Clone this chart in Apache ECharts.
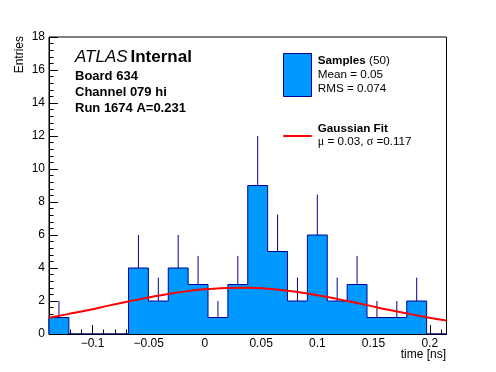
<!DOCTYPE html>
<html><head><meta charset="utf-8">
<script src="https://cdn.jsdelivr.net/npm/echarts@6/dist/echarts.min.js"></script>
<style>html,body{margin:0;padding:0;background:#fff}#c{width:496px;height:372px}</style>
</head><body><div id="c"></div>
<script>
// ---- data ----
const binLow = -0.1387;
const binWidth = 0.01768;
const counts = [1,0,0,0,4,2,4,3,1,3,9,5,2,6,2,3,1,1,2,0];
const fitX = [-0.1387,-0.121,-0.1033,-0.0857,-0.068,-0.0503,-0.0326,-0.0149,0.0027,0.0204,0.0381,0.0558,0.0735,0.0911,0.1088,0.1265,0.1442,0.1619,0.1795,0.1972,0.2149];
const fitY = [0.99,1.22,1.46,1.72,1.97,2.21,2.43,2.60,2.72,2.79,2.80,2.74,2.62,2.45,2.24,2.00,1.75,1.49,1.25,1.02,0.82];
const xMajorTicks = [-0.1,-0.05,0,0.05,0.1,0.15,0.2];
const xMinorTicks = [-0.13,-0.12,-0.11,-0.1,-0.09,-0.08,-0.07,-0.06,-0.05,-0.04,-0.03,-0.02,-0.01,0,0.01,0.02,0.03,0.04,0.05,0.06,0.07,0.08,0.09,0.1,0.11,0.12,0.13,0.14,0.15,0.16,0.17,0.18,0.19,0.2,0.21];
const yMinorTicks = [0.4,0.8,1.2,1.6,2.4,2.8,3.2,3.6,4.4,4.8,5.2,5.6,6.4,6.8,7.2,7.6,8.4,8.8,9.2,9.6,10.4,10.8,11.2,11.6,12.4,12.8,13.2,13.6,14.4,14.8,15.2,15.6,16.4,16.8,17.2,17.6];
const yMin = 0, yMax = 18, yStep = 2;
const xMin = binLow, xMax = binLow + counts.length * binWidth;
const titleLines = ['Board 634', 'Channel 079 hi', 'Run 1674 A=0.231'];
const legendSamples = {name: 'Samples', n: '(50)', mean: 'Mean = 0.05', rms: 'RMS = 0.074'};
const legendFit = {name: 'Gaussian Fit', mu: '0.03', sigma: '0.117'};

const FONT = "'Liberation Sans', Arial, Helvetica, sans-serif";
const FILL = '#0099ff', EDGE = '#000099';

const outline = [[binLow, 0]];
counts.forEach((n, i) => { outline.push([binLow + i * binWidth, n]); outline.push([binLow + (i + 1) * binWidth, n]); });
outline.push([xMax, 0]);
const errData = counts.map((n, i) => [binLow + (i + 0.5) * binWidth, n, n + Math.sqrt(n)]).filter(d => d[1] > 0);
const fitData = fitX.map((x, i) => [x, fitY[i]]);

const fmt = v => { const s = String(+v.toFixed(4)); return s.replace('-', '\u2212'); };

const chart = echarts.init(document.getElementById('c'), null, {renderer: 'canvas'});
chart.setOption({
  animation: false,
  backgroundColor: '#fff',
  grid: {left: 49, top: 37, width: 397.5, height: 297, show: true, borderColor: '#000', borderWidth: 1, backgroundColor: 'transparent'},
  xAxis: [{
    type: 'value', min: xMin, max: xMax, position: 'bottom',
    axisLine: {show: true, onZero: false, lineStyle: {color: '#000', width: 1}},
    axisTick: {show: true, inside: true, length: 9, customValues: xMajorTicks, lineStyle: {color: '#000'}},
    axisLabel: {show: true, customValues: xMajorTicks, formatter: fmt, color: '#000', fontFamily: FONT, fontSize: 12, margin: 4},
    splitLine: {show: false}
  }, {
    type: 'value', min: xMin, max: xMax, position: 'bottom',
    axisLine: {show: false, onZero: false},
    axisTick: {show: true, inside: true, length: 4.5, customValues: xMinorTicks, lineStyle: {color: '#000'}},
    axisLabel: {show: false},
    splitLine: {show: false}
  }],
  yAxis: [{
    type: 'value', min: yMin, max: yMax, interval: yStep, position: 'left',
    axisLine: {show: true, onZero: false, lineStyle: {color: '#000', width: 1}},
    axisTick: {show: true, inside: true, length: 9, lineStyle: {color: '#000'}},
    axisLabel: {color: '#000', fontFamily: FONT, fontSize: 12, margin: 4},
    splitLine: {show: false}
  }, {
    type: 'value', min: yMin, max: yMax, position: 'left', offset: 0,
    axisLine: {show: false, onZero: false},
    axisTick: {show: true, inside: true, length: 4.5, customValues: yMinorTicks, lineStyle: {color: '#000'}},
    axisLabel: {show: false},
    splitLine: {show: false}
  }],
  series: [{
    type: 'line', z: 3, data: outline, showSymbol: false, symbol: 'none',
    lineStyle: {color: EDGE, width: 1}, areaStyle: {color: FILL, opacity: 1, origin: 'start'}, silent: true
  }, {
    type: 'custom', z: 4, data: errData, encode: {x: 0, y: [1, 2]},
    renderItem: (params, api) => {
      const a = api.coord([api.value(0), api.value(1)]);
      const b = api.coord([api.value(0), api.value(2)]);
      return {type: 'line', shape: {x1: a[0], y1: a[1], x2: b[0], y2: b[1]}, style: {stroke: EDGE, lineWidth: 1}};
    }
  }, {
    type: 'line', z: 5, data: fitData, smooth: true, showSymbol: false, symbol: 'none',
    lineStyle: {color: '#ff0000', width: 2}, silent: true
  }],
  graphic: [
    {type: 'text', x: 75, y: 57, style: {text: 'ATLAS', font: `italic 17px ${FONT}`, fill: '#000', verticalAlign: 'middle'}},
    {type: 'text', x: 130.5, y: 57, style: {text: 'Internal', font: `bold 17px ${FONT}`, fill: '#000', verticalAlign: 'middle'}},
    {type: 'text', x: 75, y: 76.2, style: {text: titleLines[0], font: `bold 13px ${FONT}`, fill: '#000', verticalAlign: 'middle'}},
    {type: 'text', x: 75, y: 92.2, style: {text: titleLines[1], font: `bold 13px ${FONT}`, fill: '#000', verticalAlign: 'middle'}},
    {type: 'text', x: 75, y: 108.2, style: {text: titleLines[2], font: `bold 13px ${FONT}`, fill: '#000', verticalAlign: 'middle'}},
    {type: 'rect', shape: {x: 283.5, y: 53.5, width: 28, height: 43}, style: {fill: FILL, stroke: EDGE, lineWidth: 1}},
    {type: 'text', x: 317.7, y: 60.9, style: {text: '{b|' + legendSamples.name + '} ' + legendSamples.n, font: `11.7px ${FONT}`, fill: '#000', verticalAlign: 'middle', rich: {b: {fontWeight: 'bold', fontSize: 11.7, fontFamily: FONT}}}},
    {type: 'text', x: 317.7, y: 75.2, style: {text: legendSamples.mean, font: `11.7px ${FONT}`, fill: '#000', verticalAlign: 'middle'}},
    {type: 'text', x: 317.7, y: 89.2, style: {text: legendSamples.rms, font: `11.7px ${FONT}`, fill: '#000', verticalAlign: 'middle'}},
    {type: 'line', shape: {x1: 283.3, y1: 136, x2: 311.7, y2: 136}, style: {stroke: '#ff0000', lineWidth: 2}},
    {type: 'text', x: 317.7, y: 128.6, style: {text: legendFit.name, font: `bold 11.7px ${FONT}`, fill: '#000', verticalAlign: 'middle'}},
    {type: 'text', x: 317.7, y: 141.9, style: {text: '{g|\u03bc} = ' + legendFit.mu + ', {g|\u03c3} =' + legendFit.sigma, font: `11.7px ${FONT}`, fill: '#000', verticalAlign: 'middle', rich: {g: {fontFamily: "'Liberation Serif', 'DejaVu Serif', serif", fontSize: 12}}}},
    {type: 'text', x: 446, y: 355, style: {text: 'time [ns]', font: `12px ${FONT}`, fill: '#000', align: 'right', verticalAlign: 'middle'}},
    {type: 'text', x: 19.5, y: 36, rotation: Math.PI / 2, style: {text: 'Entries', font: `12px ${FONT}`, fill: '#000', align: 'right', verticalAlign: 'middle'}}
  ]
});
</script></body></html>
